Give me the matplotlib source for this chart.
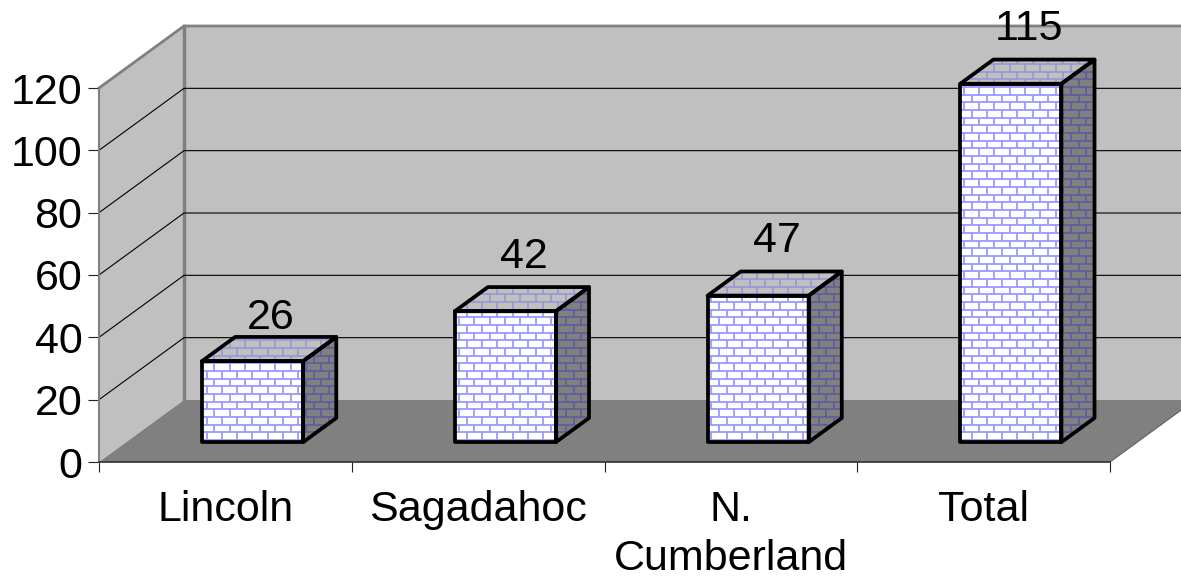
import numpy as np
from matplotlib import pyplot as plt
from matplotlib.collections import LineCollection
from matplotlib.patches import Polygon
from matplotlib.transforms import IdentityTransform

categories = ['Lincoln', 'Sagadahoc', 'N.\nCumberland', 'Total']
values = [26, 42, 47, 115]
y_ticks = [0, 20, 40, 60, 80, 100, 120]

W, H = 1181, 578
AX_L, AX_R, AX_TOP, AX_BOT = 99, 1110, 88, 462
DEPTH_X, DEPTH_Y = 85, 62  # px offset of the back wall
BAR_WIDTH = 0.4
BAR_NEAR, BAR_FAR = 0.32, 0.71

plt.rcParams['font.family'] = ['Liberation Sans', 'DejaVu Sans']

fig = plt.figure(figsize=(W / 100, H / 100), dpi=100)
ax = fig.add_axes([AX_L / W, 1 - AX_BOT / H, (AX_R - AX_L) / W, (AX_BOT - AX_TOP) / H])
ax.set_xlim(0, 4)
ax.set_ylim(0, 120)
ax.patch.set_visible(False)


def proj(x, v, depth=0.0):
    # oblique projection of (category pos, value, depth) into axes data coords
    return (x + depth * DEPTH_X * 4 / (AX_R - AX_L),
            v + depth * DEPTH_Y * 120 / (AX_BOT - AX_TOP))


def face(points, facecolor, edgecolor='none', lw=0, zorder=1):
    p = Polygon([proj(*pt) for pt in points], closed=True, facecolor=facecolor,
                edgecolor=edgecolor, linewidth=lw, zorder=zorder, clip_on=False,
                joinstyle='round')
    ax.add_patch(p)
    return p


def bricks(patch, color, zorder, lw=1.3):
    # brick pattern is screen aligned in the original, so it is laid out in pixels
    fig.canvas.draw()
    box = patch.get_window_extent()
    bw, bh = 15.3, 7.67
    segs = []
    first = np.floor(box.y0 / bh)
    for r, py in enumerate(np.arange(first * bh, box.y1 + bh, bh)):
        segs.append([(box.x0, py), (box.x1, py)])
        shift = (r % 2) * bw / 2
        for px in np.arange(np.floor(box.x0 / bw) * bw + shift, box.x1 + bw, bw):
            segs.append([(px, py), (px, py + bh)])
    lc = LineCollection(segs, colors=color, linewidths=lw, transform=IdentityTransform(),
                        zorder=zorder)
    ax.add_collection(lc, autolim=False)
    lc.set_clip_box(None)
    lc.set_clip_path(patch)


# walls and floor
far_x = 4.5
face([(0, 0), (0, 120), (0, 120, 1), (0, 0, 1)], '#c0c0c0', zorder=0.5)
face([(0, 0, 1), (0, 120, 1), (far_x, 120, 1), (far_x, 0, 1)], '#c0c0c0', zorder=0.5)
face([(0, 0), (4, 0), (4, 0, 1), (0, 0, 1)], '#808080', zorder=0.6)

for t in y_ticks[1:-1]:
    ax.plot(*zip(proj(0, t), proj(0, t, 1), proj(far_x, t, 1)), color='black', lw=0.8,
            zorder=0.7, clip_on=False)
ax.plot(*zip(proj(0, 120), proj(0, 120, 1), proj(far_x, 120, 1)), color='#808080', lw=2,
        zorder=0.7, clip_on=False)
ax.plot(*zip(proj(0, 0, 1), proj(0, 120, 1)), color='#808080', lw=2.5, zorder=0.55, clip_on=False)
ax.plot(*zip(proj(4, 0), proj(4, 0, 1)), color='#606060', lw=0.8, zorder=0.7, clip_on=False)

# bars
for i, v in enumerate(values):
    x0 = i + 0.5 - BAR_WIDTH / 2
    x1 = x0 + BAR_WIDTH
    n, f = BAR_NEAR, BAR_FAR
    top = face([(x0, v, n), (x1, v, n), (x1, v, f), (x0, v, f)], '#c0c0c0', zorder=2)
    side = face([(x1, 0, n), (x1, v, n), (x1, v, f), (x1, 0, f)], '#808080', zorder=2)
    front = face([(x0, 0, n), (x1, 0, n), (x1, v, n), (x0, v, n)], 'white', zorder=2)
    bricks(top, '#9494d8', 2.1, 1.1)
    bricks(side, '#5a5aa0', 2.1, 1.1)
    bricks(front, '#9999ff', 2.1)
    for pts in ([(x0, v, n), (x1, v, n), (x1, v, f), (x0, v, f)],
                [(x1, 0, n), (x1, v, n), (x1, v, f), (x1, 0, f)],
                [(x0, 0, n), (x1, 0, n), (x1, v, n), (x0, v, n)]):
        face(pts, 'none', 'black', 2.7, zorder=2.2)
    lx, ly = proj(i + 0.5, v, 0.52)
    ax.annotate(str(v), (lx, ly), xytext=(1, 33.5 if v > 30 else 25.5), textcoords='offset points',
                ha='center', va='center_baseline', fontsize=31, zorder=3, annotation_clip=False)

# axes
ax.set_yticks(y_ticks)
ax.tick_params(axis='y', length=8, width=0.8, pad=4, labelsize=31, color='#202020')
ax.set_xticks(range(5))
ax.set_xticklabels([])
ax.tick_params(axis='x', which='major', length=7.5, width=0.8, color='#202020')
ax.set_xticks([i + 0.5 for i in range(4)], categories, minor=True)
ax.tick_params(axis='x', which='minor', length=0, pad=20, labelsize=31)
for lab in ax.get_xticklabels(minor=True):
    lab.set_linespacing(1.3)
for s in ('top', 'right'):
    ax.spines[s].set_visible(False)
ax.spines['left'].set_color('#808080')
ax.spines['left'].set_linewidth(1.5)
ax.spines['bottom'].set_color('#303030')
ax.spines['bottom'].set_linewidth(1.2)

fig.savefig('out.png', dpi=100, facecolor='white')
